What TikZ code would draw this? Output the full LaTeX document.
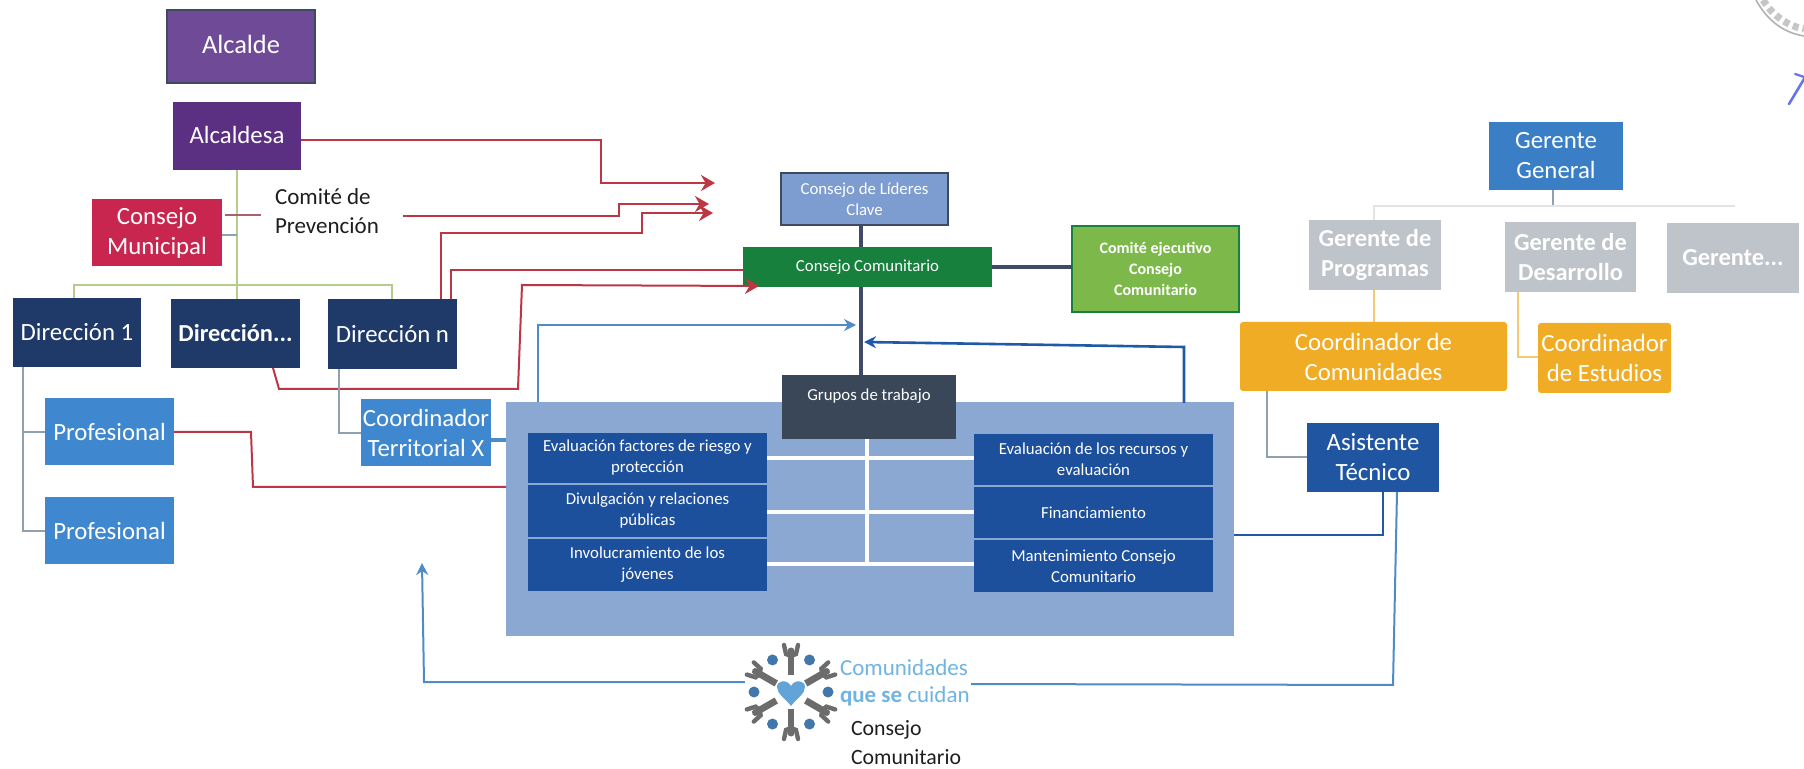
\documentclass[tikz,border=0pt]{standalone}
\usepackage{fontspec}
\setmainfont{Carlito}
\usetikzlibrary{arrows.meta}
\definecolor{cPurpleA}{HTML}{6F4A96}
\definecolor{cPurpleB}{HTML}{5B2F82}
\definecolor{cEdge}{HTML}{3D4A60}
\definecolor{cCrimson}{HTML}{C9264F}
\definecolor{cNavy}{HTML}{1F3A68}
\definecolor{cBlue}{HTML}{3F87CE}
\definecolor{cPanel}{HTML}{8AA8D1}
\definecolor{cDeep}{HTML}{1C4F9C}
\definecolor{cLead}{HTML}{7D9CCF}
\definecolor{cGreen}{HTML}{17803C}
\definecolor{cLime}{HTML}{7DB84B}
\definecolor{cSlate}{HTML}{3A4759}
\definecolor{cGrey}{HTML}{BEC4CA}
\definecolor{cOrange}{HTML}{F0AC24}
\definecolor{cRed}{HTML}{BC3644}
\definecolor{cWire}{HTML}{8FA0B0}
\definecolor{cOlive}{HTML}{B5CC8A}
\definecolor{cLine}{HTML}{4F8BC9}
\definecolor{cDkLine}{HTML}{1F5AA8}
\definecolor{cSpine}{HTML}{3F4A68}
\definecolor{cSky}{HTML}{6FB4E3}
\definecolor{cInk}{HTML}{1E1E1E}
\tikzset{
  x=0.5pt,y=-0.5pt,
  base/.style={inner sep=0pt,outer sep=0pt,align=center,text=white},
  big/.style={base,font=\fontsize{12.4}{15}\selectfont},
  bigbold/.style={base,font=\fontsize{12.2}{15}\selectfont\bfseries},
  small/.style={base,font=\fontsize{8.4}{10.5}\selectfont},
  redwire/.style={draw=cRed,line width=1pt},
  redarrow/.style={redwire,-{Stealth[length=7pt,width=8pt]}},
  bluewire/.style={draw=cLine,line width=1pt},
  bluearrow/.style={bluewire,-{Stealth[length=6pt,width=6pt]}},
  greywire/.style={draw=cWire,line width=0.7pt},
  olivewire/.style={draw=cOlive,line width=0.7pt},
  yellowwire/.style={draw=cOrange!65,line width=0.7pt},
  spine/.style={draw=cSpine,line width=1.7pt},
  label/.style={inner sep=0pt,outer sep=0pt,align=left,text=cInk},
}
\newcommand{\bx}[7]{%
  \pgfmathsetmacro\bxcx{(#2+#4)/2}\pgfmathsetmacro\bxcy{(#3+#5)/2}%
  \pgfmathsetmacro\bxw{(#4-#2)*0.5}\pgfmathsetmacro\bxh{(#5-#3)*0.5}%
  \node[#6,minimum width=\bxw pt,minimum height=\bxh pt] (#1) at (\bxcx,\bxcy) {#7};}
\begin{document}
\begin{tikzpicture}
\useasboundingbox (0,0) rectangle (1804,769);
\fill[white] (0,0) rectangle (1804,769);

% --- panel behind everything in the centre
\bx{panel}{506}{402}{1234}{636}{base,fill=cPanel}{}

% --- boxes
\bx{alcalde}{167}{10}{315}{83}{base,font=\fontsize{13.2}{15}\selectfont,fill=cPurpleA,draw=cEdge,line width=1.3pt}{\raisebox{2pt}{Alcalde}}
\bx{alcaldesa}{173}{102}{301}{170}{big,fill=cPurpleB}{\raisebox{1pt}{Alcaldesa}}
\bx{municipal}{92}{199}{222}{266}{big,fill=cCrimson}{Consejo\\Municipal}
\bx{dirA}{13}{298}{141}{367}{big,fill=cNavy}{Dirección 1}
\bx{dirB}{171}{299}{300}{368}{bigbold,fill=cNavy}{Dirección...}
\bx{dirC}{328}{299}{457}{369}{big,fill=cNavy}{Dirección n}
\bx{profA}{45}{398}{174}{465}{big,fill=cBlue}{Profesional}
\bx{profB}{45}{497}{174}{564}{big,fill=cBlue}{Profesional}
\bx{terr}{361}{399}{491}{466}{big,fill=cBlue}{Coordinador\\Territorial X}

\bx{lideres}{781}{173}{948}{225}{small,fill=cLead,draw=cEdge,line width=0.8pt}{Consejo de Líderes\\Clave}
\bx{comunit}{743}{247}{992}{287}{small,fill=cGreen}{Consejo Comunitario}
\bx{comite}{1072}{226}{1239}{312}{base,fill=cLime,draw=cGreen,line width=0.8pt,font=\fontsize{8}{10.5}\selectfont\bfseries}{Comité ejecutivo\\Consejo\\Comunitario}
\bx{grupos}{782}{375}{956}{439}{small,fill=cSlate}{Grupos de trabajo\\[1.5pt]\mbox{}}

\bx{lA}{528}{433}{767}{483}{small,fill=cDeep}{Evaluación factores de riesgo y\\protección}
\bx{lB}{528}{485}{767}{537}{small,fill=cDeep}{Divulgación y relaciones\\públicas}
\bx{lC}{528}{539}{767}{591}{small,fill=cDeep}{Involucramiento de los\\jóvenes}
\bx{rA}{974}{434}{1213}{485}{small,fill=cDeep}{Evaluación de los recursos y\\evaluación}
\bx{rB}{974}{487}{1213}{538}{small,fill=cDeep}{Financiamiento}
\bx{rC}{974}{540}{1213}{592}{small,fill=cDeep}{Mantenimiento Consejo\\Comunitario}

\bx{gg}{1489}{122}{1623}{190}{big,fill=cBlue!85!cDeep}{Gerente\\General}
\bx{gProg}{1309}{220}{1441}{290}{bigbold,fill=cGrey}{Gerente de\\Programas}
\bx{gDes}{1505}{222}{1636}{292}{bigbold,fill=cGrey}{Gerente de\\Desarrollo}
\bx{gEtc}{1667}{223}{1799}{293}{bigbold,fill=cGrey}{Gerente...}
\bx{cCom}{1240}{322}{1507}{391}{big,fill=cOrange,rounded corners=1.5pt}{Coordinador de\\Comunidades}
\bx{cEst}{1538}{323}{1671}{393}{big,fill=cOrange,rounded corners=1.5pt}{Coordinador\\de Estudios}
\bx{asist}{1307}{423}{1439}{492}{big,fill=cDeep!90!cBlue}{Asistente\\Técnico}

% --- free labels
\node[label,anchor=west,font=\fontsize{11.5}{14.4}\selectfont] (prev) at (275,211) {Comité de\\Prevención};
\node[label,anchor=west,font=\fontsize{10.9}{14.4}\selectfont] (cc) at (851,742.5) {Consejo\\Comunitario};

% --- free connector ends
\coordinate (tipA) at (715,183);
\coordinate (tipB) at (709,204);
\coordinate (tipC) at (713,213);
\coordinate (tipD) at (759,286);
\coordinate (tipE) at (856,325);
\coordinate (tipF) at (864,342);
\coordinate (tipG) at (422,563);
\coordinate (logoL) at (747,682);
\coordinate (logoR) at (971,684);
\coordinate (prevW) at (261,215);
\coordinate (prevE) at (403,216);
\coordinate (hub) at (237,285);
\coordinate (ggHub) at (1553,206);

% --- red connectors
\draw[redarrow] (alcaldesa.east|-0,140) -- (601,140) -- (601,183) -- (tipA);
\draw[redarrow] (prevE) -- (619,216) -- (619,204) -- (tipB);
\draw[redarrow] (441,299) -- (441,233) -- (642,233) -- (642,213) -- (tipC);
\draw[redwire] (451,299) -- (451,270) -- (comunit.west|-0,270);
\draw[redarrow] (273,368) -- (279,389) -- (518,389) -- (522,285) -- (tipD);
\draw[redwire] (profA.east|-0,432) -- (251,432) -- (253,487) -- (panel.west|-0,487);

% --- blue connectors
\draw[bluearrow] (538,402) -- (538,325) -- (tipE);
\draw[bluearrow,draw=cDkLine,line width=1.3pt] (1184,403) -- (1184,347) -- (tipF);
\draw[draw=cLine,line width=2pt] (terr.east|-0,440) -- (panel.west|-0,440);
\draw[draw=cDkLine,line width=1.4pt] (1383,492) -- (1383,535) -- (panel.east|-0,535);
\draw[bluewire] (1397,492) -- (1393,685) -- (logoR);
\draw[bluearrow] (logoL) -- (424,682) -- (tipG);

% --- spine
\draw[spine] (861,225) -- (861,247);
\draw[spine] (861,287) -- (861,375);
\draw[draw=cSpine,line width=2.4pt] (comunit.east|-0,267) -- (comite.west|-0,267);

% --- hierarchy lines
\draw[olivewire] (237,170) -- (hub);
\draw[olivewire] (74,298) -- (74,285) -- (392,285) -- (392,299);
\draw[olivewire] (hub) -- (237,299);
\draw[greywire] (municipal.east|-0,235) -- (237,235);
\draw[draw=cRed!60!cWire,line width=0.8pt] (225,215) -- (prevW);
\draw[greywire] (23,367) -- (23,531) -- (profB.west|-0,531);
\draw[greywire] (23,432) -- (profA.west|-0,432);
\draw[greywire] (339,369) -- (339,433) -- (terr.west|-0,433);
\draw[greywire] (1553,190) -- (ggHub);
\draw[draw=cGrey!45,line width=0.6pt] (1374,220) -- (1374,206) -- (1735,206);
\draw[yellowwire] (1374,290) -- (1374,322);
\draw[yellowwire] (1518,292) -- (1518,357) -- (cEst.west|-0,357);
\draw[greywire] (1267,391) -- (1267,457) -- (asist.west|-0,457);

% --- white lattice on the panel
\foreach \yy in {458,512,564}{\draw[white,line width=2pt] (767,\yy) -- (974,\yy);}
\draw[white,line width=2pt] (867,439) -- (867,564);

% --- logo
\fill[white] (745,640) rectangle (845,745);
\begin{scope}[shift={(791,692)}]
  \foreach \aa in {90,150,210,270,330,30}{
    \begin{scope}[rotate=\aa]
      \draw[gray!85!black,line width=3.4pt] (17,0) -- (37,0);
      \draw[gray!85!black,line width=2.2pt,line cap=round] (47,-7) -- (38,-5) -- (36,0) -- (38,5) -- (47,7);
      \fill[gray!85!black] (41,0) circle (3.5);
    \end{scope}
  }
  \foreach \aa in {0,60,120,180,240,300}{
    \fill[cLine!85!black] (\aa:37) circle (5.5);
  }
  \fill[cSky!60!cLine] (0,14) .. controls (-6,6) and (-14,2) .. (-14,-5) .. controls (-14,-12) and (-4,-13) .. (0,-6) .. controls (4,-13) and (14,-12) .. (14,-5) .. controls (14,2) and (6,6) .. (0,14) -- cycle;
\end{scope}
\node[inner sep=0pt,outer sep=0pt,text=cSky,anchor=west,font=\fontsize{11.5}{12}\selectfont] (lg1) at (840,668) {Comunidades};
\node[inner sep=0pt,outer sep=0pt,text=cSky,anchor=west,font=\fontsize{11.5}{12}\selectfont] (lg2) at (840,696) {\textbf{que se} cuidan};

% --- stamp and pen mark at the top right corner
\draw[gray!60,line width=0.8pt] (1756,0) .. controls (1768,22) and (1785,33) .. (1804,36);
\draw[gray!45,line width=3.5pt,dash pattern=on 3pt off 2pt] (1763,0) .. controls (1773,16) and (1788,26) .. (1804,29);
\draw[cLine!40!blue!70!white,line width=1.3pt,line cap=round] (1789,104) -- (1804,79);
\draw[cLine!40!blue!70!white,line width=1.1pt,line cap=round] (1795,74) -- (1804,77);
\end{tikzpicture}
\end{document}
